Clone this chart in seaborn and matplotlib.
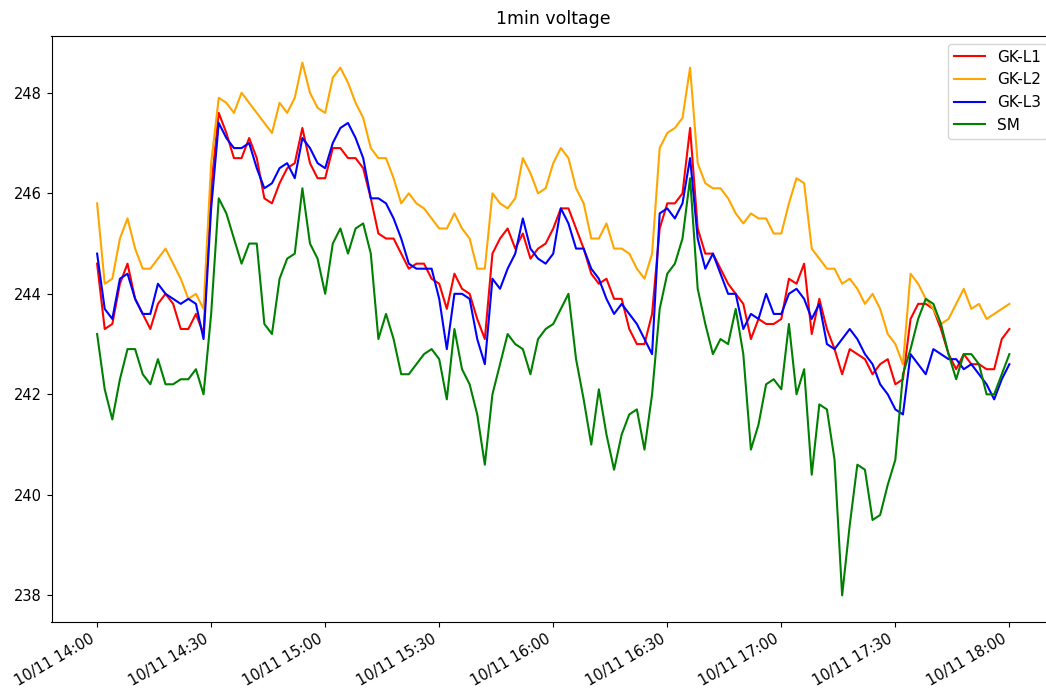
import pandas as pd
import matplotlib
matplotlib.use("Agg")
import matplotlib.pyplot as plt
import matplotlib.dates as mdates
import seaborn as sns

# 1-minute voltage log, every 2 minutes (14:00 -> 18:00)
START = "2020-10-11 14:00"
STEP = "2min"

GK_L1 = [244.6, 243.3, 243.4, 244.2, 244.6, 243.9, 243.6, 243.3, 243.8, 244.0,
         243.8, 243.3, 243.3, 243.6, 243.2, 246.1, 247.6, 247.2, 246.7, 246.7,
         247.1, 246.7, 245.9, 245.8, 246.2, 246.5, 246.6, 247.3, 246.6, 246.3,
         246.3, 246.9, 246.9, 246.7, 246.7, 246.5, 245.9, 245.2, 245.1, 245.1,
         244.8, 244.5, 244.6, 244.6, 244.3, 244.2, 243.7, 244.4, 244.1, 244.0,
         243.5, 243.1, 244.8, 245.1, 245.3, 244.9, 245.2, 244.7, 244.9, 245.0,
         245.3, 245.7, 245.7, 245.3, 244.9, 244.4, 244.2, 244.3, 243.9, 243.9,
         243.3, 243.0, 243.0, 243.6, 245.3, 245.8, 245.8, 246.0, 247.3, 245.3,
         244.8, 244.8, 244.5, 244.2, 244.0, 243.8, 243.1, 243.5, 243.4, 243.4,
         243.5, 244.3, 244.2, 244.6, 243.2, 243.9, 243.3, 242.9, 242.4, 242.9,
         242.8, 242.7, 242.4, 242.6, 242.7, 242.2, 242.3, 243.5, 243.8, 243.8,
         243.7, 243.3, 242.8, 242.5, 242.8, 242.6, 242.6, 242.5, 242.5, 243.1,
         243.3]

GK_L2 = [245.8, 244.2, 244.3, 245.1, 245.5, 244.9, 244.5, 244.5, 244.7, 244.9,
         244.6, 244.3, 243.9, 244.0, 243.7, 246.6, 247.9, 247.8, 247.6, 248.0,
         247.8, 247.6, 247.4, 247.2, 247.8, 247.6, 247.9, 248.6, 248.0, 247.7,
         247.6, 248.3, 248.5, 248.2, 247.8, 247.5, 246.9, 246.7, 246.7, 246.3,
         245.8, 246.0, 245.8, 245.7, 245.5, 245.3, 245.3, 245.6, 245.3, 245.1,
         244.5, 244.5, 246.0, 245.8, 245.7, 245.9, 246.7, 246.4, 246.0, 246.1,
         246.6, 246.9, 246.7, 246.1, 245.8, 245.1, 245.1, 245.4, 244.9, 244.9,
         244.8, 244.5, 244.3, 244.8, 246.9, 247.2, 247.3, 247.5, 248.5, 246.6,
         246.2, 246.1, 246.1, 245.9, 245.6, 245.4, 245.6, 245.5, 245.5, 245.2,
         245.2, 245.8, 246.3, 246.2, 244.9, 244.7, 244.5, 244.5, 244.2, 244.3,
         244.1, 243.8, 244.0, 243.7, 243.2, 243.0, 242.6, 244.4, 244.2, 243.9,
         243.7, 243.4, 243.5, 243.8, 244.1, 243.7, 243.8, 243.5, 243.6, 243.7,
         243.8]

GK_L3 = [244.8, 243.7, 243.5, 244.3, 244.4, 243.9, 243.6, 243.6, 244.2, 244.0,
         243.9, 243.8, 243.9, 243.8, 243.1, 245.7, 247.4, 247.1, 246.9, 246.9,
         247.0, 246.5, 246.1, 246.2, 246.5, 246.6, 246.3, 247.1, 246.9, 246.6,
         246.5, 247.0, 247.3, 247.4, 247.1, 246.7, 245.9, 245.9, 245.8, 245.5,
         245.1, 244.6, 244.5, 244.5, 244.5, 243.9, 242.9, 244.0, 244.0, 243.9,
         243.1, 242.6, 244.3, 244.1, 244.5, 244.8, 245.5, 244.9, 244.7, 244.6,
         244.8, 245.7, 245.4, 244.9, 244.9, 244.5, 244.3, 243.9, 243.6, 243.8,
         243.6, 243.4, 243.1, 242.8, 245.6, 245.7, 245.5, 245.8, 246.7, 245.1,
         244.5, 244.8, 244.4, 244.0, 244.0, 243.3, 243.6, 243.5, 244.0, 243.6,
         243.6, 244.0, 244.1, 243.9, 243.5, 243.8, 243.0, 242.9, 243.1, 243.3,
         243.1, 242.8, 242.6, 242.2, 242.0, 241.7, 241.6, 242.8, 242.6, 242.4,
         242.9, 242.8, 242.7, 242.7, 242.5, 242.6, 242.4, 242.2, 241.9, 242.3,
         242.6]

SM = [243.2, 242.1, 241.5, 242.3, 242.9, 242.9, 242.4, 242.2, 242.7, 242.2,
      242.2, 242.3, 242.3, 242.5, 242.0, 243.6, 245.9, 245.6, 245.1, 244.6,
      245.0, 245.0, 243.4, 243.2, 244.3, 244.7, 244.8, 246.1, 245.0, 244.7,
      244.0, 245.0, 245.3, 244.8, 245.3, 245.4, 244.8, 243.1, 243.6, 243.1,
      242.4, 242.4, 242.6, 242.8, 242.9, 242.7, 241.9, 243.3, 242.5, 242.2,
      241.6, 240.6, 242.0, 242.6, 243.2, 243.0, 242.9, 242.4, 243.1, 243.3,
      243.4, 243.7, 244.0, 242.7, 241.9, 241.0, 242.1, 241.2, 240.5, 241.2,
      241.6, 241.7, 240.9, 242.0, 243.7, 244.4, 244.6, 245.1, 246.3, 244.1,
      243.4, 242.8, 243.1, 243.0, 243.7, 242.8, 240.9, 241.4, 242.2, 242.3,
      242.1, 243.4, 242.0, 242.5, 240.4, 241.8, 241.7, 240.7, 238.0, 239.4,
      240.6, 240.5, 239.5, 239.6, 240.2, 240.7, 242.4, 242.9, 243.5, 243.9,
      243.8, 243.4, 242.8, 242.3, 242.8, 242.8, 242.6, 242.0, 242.0, 242.4,
      242.8]

SERIES = ["GK-L1", "GK-L2", "GK-L3", "SM"]
COLORS = ["red", "orange", "blue", "green"]

times = pd.date_range(START, periods=len(SM), freq=STEP)
wide = pd.DataFrame({"GK-L1": GK_L1, "GK-L2": GK_L2, "GK-L3": GK_L3, "SM": SM}, index=times)
long = wide.rename_axis("time").reset_index().melt(id_vars="time", var_name="line", value_name="voltage")

plt.rcParams["font.size"] = 10.5
fig = plt.figure(figsize=(10.46, 6.93), dpi=100)
# axes run past the right edge of the picture, like the cropped screenshot
ax = fig.add_axes([51.5/1046, 71/693, 1003.5/1046, 586/693])

sns.lineplot(data=long, x="time", y="voltage", hue="line", hue_order=SERIES,
             palette=COLORS, linewidth=1.5, ax=ax)

ax.set_title("1min voltage", fontsize=12.5, pad=9)
ax.set_xlabel("")
ax.set_ylabel("")
ax.xaxis.set_major_locator(mdates.MinuteLocator(byminute=[0, 30]))
ax.xaxis.set_major_formatter(mdates.DateFormatter("%m/%d %H:%M"))
plt.setp(ax.get_xticklabels(), rotation=30, ha="right")
sns.move_legend(ax, "upper right", title=None, fontsize=11)

fig.savefig("out.png", dpi=100)
print("saved out.png")
